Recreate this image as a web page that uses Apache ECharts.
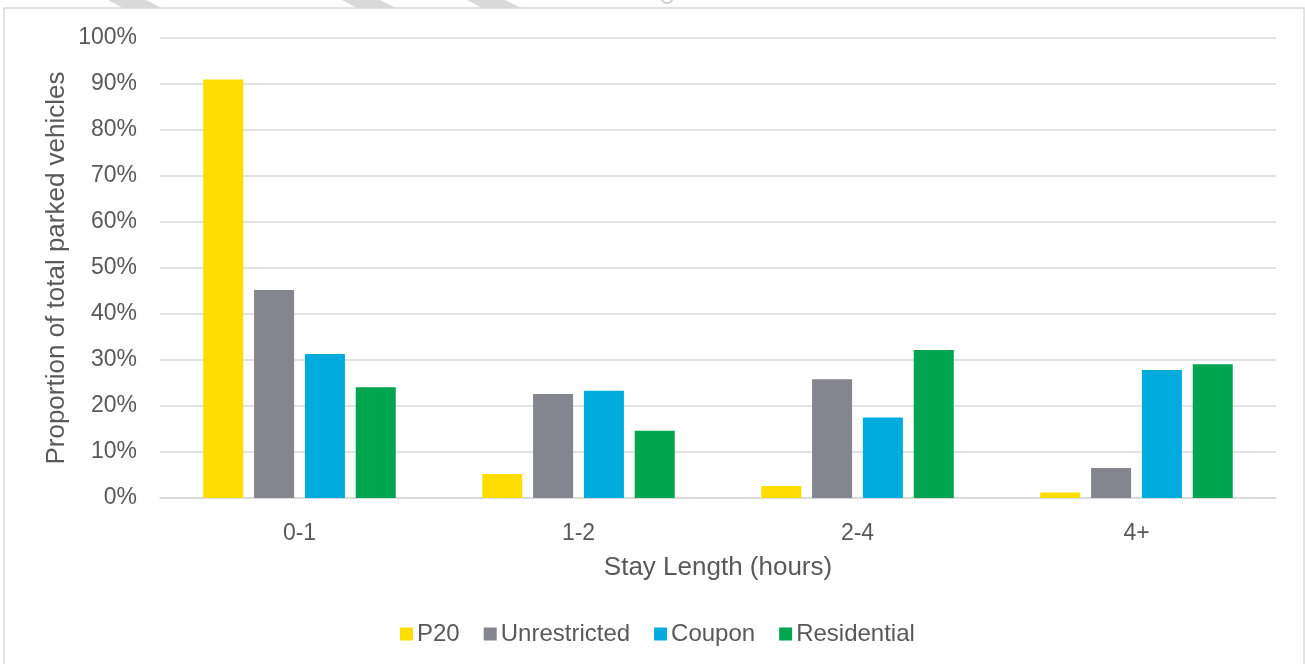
<!DOCTYPE html>
<html>
<head>
<meta charset="utf-8">
<script src="https://cdn.jsdelivr.net/npm/echarts@6/dist/echarts.min.js"></script>
<style>html,body{margin:0;padding:0;background:#fff;}#c{width:1305px;height:664px;}</style>
</head>
<body>
<div id="c"></div>
<script>
const categories = ['0-1', '1-2', '2-4', '4+'];
const seriesNames = ['P20', 'Unrestricted', 'Coupon', 'Residential'];
const p20 = [91.0, 5.2, 2.6, 1.2];
const unrestricted = [45.2, 22.6, 25.8, 6.5];
const coupon = [31.3, 23.3, 17.5, 27.8];
const residential = [24.1, 14.6, 32.2, 29.1];
const colors = ['#FFDD00', '#84858F', '#00ACDE', '#00A550'];
const values = [p20, unrestricted, coupon, residential];

const chart = echarts.init(document.getElementById('c'));
const font = 'Liberation Sans, Arial, sans-serif';
chart.setOption({
  animation: false,
  textStyle: { fontFamily: font },
  graphic: [
    { type: 'rect', shape: { x: 4, y: 8, width: 1300, height: 680 }, style: { fill: 'none', stroke: '#d9d9d9', lineWidth: 1.5 }, z: -1 },
    { type: 'polygon', shape: { points: [[108,0],[146,0],[162,8],[123,8]] }, style: { fill: '#d9d9d9' } },
    { type: 'polygon', shape: { points: [[342,0],[380,0],[396,8],[357,8]] }, style: { fill: '#d9d9d9' } },
    { type: 'polygon', shape: { points: [[467,0],[505,0],[521,8],[482,8]] }, style: { fill: '#d9d9d9' } },
    { type: 'arc', shape: { cx: 667, cy: -3, r: 6, startAngle: 0.3, endAngle: 2.8 }, style: { stroke: '#d0d0d0', lineWidth: 2, fill: 'none' } }
  ],
  grid: { left: 160, right: 29, top: 38, bottom: 166, containLabel: false },
  legend: {
    bottom: 13,
    left: 395,
    icon: 'rect',
    itemWidth: 13,
    itemHeight: 13,
    itemGap: 24,
    textStyle: { color: '#595959', fontSize: 24, fontFamily: font, padding: [0, 0, 0, -1] },
    data: seriesNames
  },
  xAxis: {
    type: 'category',
    data: categories,
    name: 'Stay Length (hours)',
    nameLocation: 'middle',
    nameGap: 57,
    nameTextStyle: { color: '#595959', fontSize: 26, fontFamily: font },
    axisLine: { lineStyle: { color: '#d9d9d9', width: 1.5 } },
    axisTick: { show: false },
    axisLabel: { color: '#595959', fontSize: 23, margin: 24, fontFamily: font }
  },
  yAxis: {
    type: 'value',
    min: 0,
    max: 100,
    interval: 10,
    name: 'Proportion of total parked vehicles',
    nameLocation: 'middle',
    nameGap: 90,
    nameMoveOverlap: false,
    nameTextStyle: { color: '#595959', fontSize: 26, fontFamily: font },
    axisLine: { show: false },
    axisTick: { show: false },
    splitLine: { lineStyle: { color: '#d9d9d9', width: 1.5 } },
    axisLabel: { color: '#595959', fontSize: 23, margin: 23, formatter: '{value}%', fontFamily: font }
  },
  series: seriesNames.map((n, i) => ({
    name: n,
    type: 'bar',
    data: values[i],
    barGap: '27%',
    barCategoryGap: '31%',
    itemStyle: { color: colors[i] }
  }))
});
</script>
</body>
</html>
